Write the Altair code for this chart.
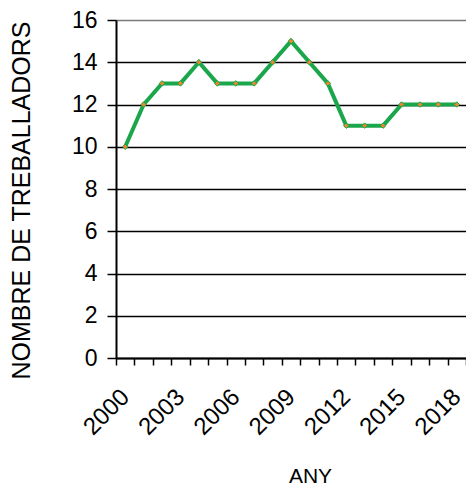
import altair as alt
import pandas as pd

years = list(range(2000, 2019))
workers = [10, 12, 13, 13, 14, 13, 13, 13, 14, 15, 14, 13, 11, 11, 11, 12, 12, 12, 12]

df = pd.DataFrame({"ANY": years, "N": workers})

FONT = "Liberation Sans"
GREEN = "#1aa64b"

x = alt.X(
    "ANY:O",
    title="ANY",
    scale=alt.Scale(paddingInner=0, paddingOuter=0),
    axis=alt.Axis(
        labelExpr="(datum.value - 2000) % 3 == 0 ? datum.value : ''",
        labelAngle=-45,
        labelAlign="right",
        labelBaseline="middle",
        labelFontSize=24,
        labelFont=FONT,
        labelColor="black",
        labelPadding=28,
        tickBand="extent",
        tickSize=7,
        tickColor="black",
        tickWidth=1.5,
        domainColor="black",
        domainWidth=2,
        grid=False,
        titleFont=FONT,
        titleFontSize=21,
        titleFontWeight="normal",
        titleColor="black",
        titleX=194,
        titleY=118,
        titleAlign="center",
        titleBaseline="middle",
        labelOverlap=False,
    ),
)
y = alt.Y(
    "N:Q",
    title="NOMBRE DE TREBALLADORS",
    scale=alt.Scale(domain=[0, 16], nice=False),
    axis=alt.Axis(
        values=[0, 2, 4, 6, 8, 10, 12, 14, 16],
        labelFontSize=23,
        labelFont=FONT,
        labelColor="black",
        labelPadding=10,
        tickSize=9,
        tickColor="black",
        tickWidth=1.5,
        domainColor="black",
        domainWidth=2,
        grid=True,
        gridColor={"condition": {"test": "datum.value == 16", "value": "#7a7a7a"}, "value": "black"},
        gridWidth=1.5,
        titleFont=FONT,
        titleFontSize=25,
        titleFontWeight="normal",
        titleColor="black",
        titleAngle=270,
        titleX=-95,
        titleY=180,
        titleAlign="center",
        titleBaseline="middle",
    ),
)

base = alt.Chart(df)
line = base.mark_line(color=GREEN, strokeWidth=4).encode(x=x, y=y)
pts = base.mark_point(
    shape="diamond", filled=True, fill="#f0862a", stroke=GREEN, strokeWidth=1, size=30, opacity=1
).encode(x=x, y=y)

chart = (
    (line + pts)
    .properties(
        width=350,
        height=338,
        padding={"left": 108, "top": 12, "right": 0, "bottom": 129},
        autosize=alt.AutoSizeParams(type="none"),
    )
    .configure_view(fill="#c0c0c0", stroke=None)
    .configure(background="white")
)

chart.save("out.html", embed_options={"renderer": "svg", "actions": False})
